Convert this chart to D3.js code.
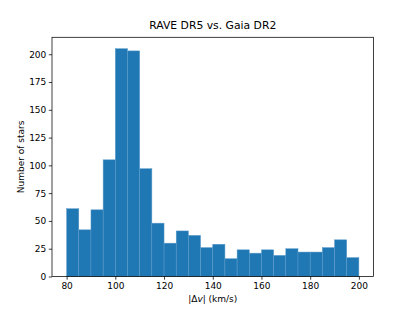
<!DOCTYPE html>
<html><head><meta charset="utf-8">
<script src="https://cdnjs.cloudflare.com/ajax/libs/d3/7.8.5/d3.min.js"></script>
<style>body{margin:0;background:#fff}svg{display:block}text{font-family:"DejaVu Sans",sans-serif;fill:#000}</style>
</head><body><svg id="c" width="415" height="311"></svg>
<script>
const binStarts = [80,85,90,95,100,105,110,115,120,125,130,135,140,145,150,155,160,165,170,175,180,185,190,195];
const binWidth = 5;
const counts = [61,42,60,105,205,203,97,48,30,41,37,26,29,16,24,21,24,19,25,22,22,26,33,17];
const xTicks = [80,100,120,140,160,180,200];
const yTicks = [0,25,50,75,100,125,150,175,200];

const svg = d3.select("#c");
const L = 52, R = 373.5, T = 37.3, B = 276.5;
const x = d3.scaleLinear().domain([74, 206]).range([L, R]);
const y = d3.scaleLinear().domain([0, 215.25]).range([B, T]);

svg.append("g").selectAll("rect").data(counts).join("rect")
  .attr("x", (d,i) => x(binStarts[i]))
  .attr("width", (d,i) => x(binStarts[i]+binWidth) - x(binStarts[i]))
  .attr("y", d => y(d))
  .attr("height", d => y(0) - y(d))
  .attr("fill", "#1f77b4")
  .attr("stroke", "#5d9ccb")
  .attr("stroke-width", 0.5);

const xa = svg.append("g").attr("transform", `translate(0,${B})`)
  .call(d3.axisBottom(x).tickValues(xTicks).tickSize(3.2).tickPadding(2.5).tickFormat(d3.format("d")));
const ya = svg.append("g").attr("transform", `translate(${L},0)`)
  .call(d3.axisLeft(y).tickValues(yTicks).tickSize(3.2).tickPadding(2.5).tickFormat(d3.format("d")));
[xa, ya].forEach(a => {
  a.selectAll("text").attr("font-size", 9).attr("font-family", "DejaVu Sans");
  a.selectAll("line").attr("stroke-width", 0.75);
  a.select(".domain").remove();
});
svg.append("rect").attr("x", L).attr("y", T).attr("width", R-L).attr("height", B-T)
  .attr("fill", "none").attr("stroke", "#000").attr("stroke-width", 0.75);

svg.append("text").attr("x", (L+R)/2).attr("y", 29).attr("text-anchor", "middle")
  .attr("font-size", 10.8).text("RAVE DR5 vs. Gaia DR2");
const xl = svg.append("text").attr("x", (L+R)/2).attr("y", 301.5).attr("text-anchor", "middle").attr("font-size", 9);
xl.append("tspan").text("|Δ");
xl.append("tspan").attr("font-style", "italic").text("v");
xl.append("tspan").text("| (km/s)");
svg.append("text").attr("transform", `translate(23.5,${(T+B)/2}) rotate(-90)`).attr("text-anchor", "middle")
  .attr("font-size", 9).text("Number of stars");
</script></body></html>
